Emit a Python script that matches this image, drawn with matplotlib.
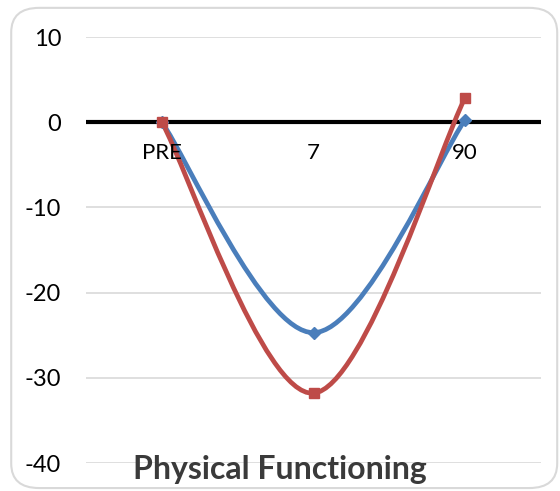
import numpy as np
import matplotlib
matplotlib.use("Agg")
from matplotlib import pyplot as plt
from matplotlib.path import Path
from matplotlib.patches import PathPatch, FancyBboxPatch

categories = ['PRE', '7', '90']
blue_values = [0, -24.7, 0.3]
red_values = [0, -31.8, 2.9]
y_ticks = [10, 0, -10, -20, -30, -40]
title = 'Physical Functioning'

plt.rcParams['font.family'] = ['Lato', 'DejaVu Sans']


def smooth_path(xs, ys):
    # Excel-style smoothed line: cubic bezier with control points from neighbours
    pts = np.column_stack([xs, ys]).astype(float)
    n = len(pts)
    verts = [pts[0]]
    codes = [Path.MOVETO]
    for i in range(n - 1):
        p_prev = pts[i - 1] if i > 0 else pts[i]
        p_next2 = pts[i + 2] if i + 2 < n else pts[i + 1]
        c1 = pts[i] + (pts[i + 1] - p_prev) / 6
        c2 = pts[i + 1] - (p_next2 - pts[i]) / 6
        verts += [c1, c2, pts[i + 1]]
        codes += [Path.CURVE4] * 3
    return Path(verts, codes)


fig = plt.figure(figsize=(5.6, 4.91), dpi=100, facecolor='white')
border = FancyBboxPatch((0.02, 0.006), 0.975, 0.978, boxstyle='round,pad=0,rounding_size=0.05',
                        transform=fig.transFigure, facecolor='none', edgecolor='#D9D9D9',
                        linewidth=1.5, zorder=-1)
fig.patches.append(border)

ax = fig.add_axes([0.1536, 0.057, 0.8125, 0.8676])
ax.set_facecolor('none')
x = np.arange(len(categories))
ax.set_xlim(-0.5, len(categories) - 0.5)
ax.set_ylim(-40, 10)

for t in y_ticks:
    if t != 0:
        ax.axhline(t, color='#D9D9D9', linewidth=1.2, zorder=1)
ax.axhline(0, color='black', linewidth=3, zorder=2)

for vals, color, marker, ms in [(blue_values, '#4A7EBB', 'D', 6), (red_values, '#BE4B48', 's', 7.5)]:
    ax.add_patch(PathPatch(smooth_path(x, vals), facecolor='none', edgecolor=color,
                           linewidth=3.4, capstyle='round', zorder=3))
    ax.plot(x, vals, linestyle='none', marker=marker, markersize=ms, color=color,
            markeredgecolor=color, zorder=4)

ax.set_yticks(y_ticks)
ax.set_yticklabels([str(t) for t in y_ticks], fontsize=17)
ax.set_xticks([])
for xi, label in zip(x, categories):
    ax.text(xi, -2.4, label, ha='center', va='top', fontsize=16, color='black', zorder=5)
ax.tick_params(axis='y', length=0, pad=18)
for s in ax.spines.values():
    s.set_visible(False)

fig.text(0.5, 0.043, title, ha='center', va='center', fontsize=23, fontweight='bold',
         color='#3A3A3A', zorder=6)

fig.savefig('out.png', dpi=100)
